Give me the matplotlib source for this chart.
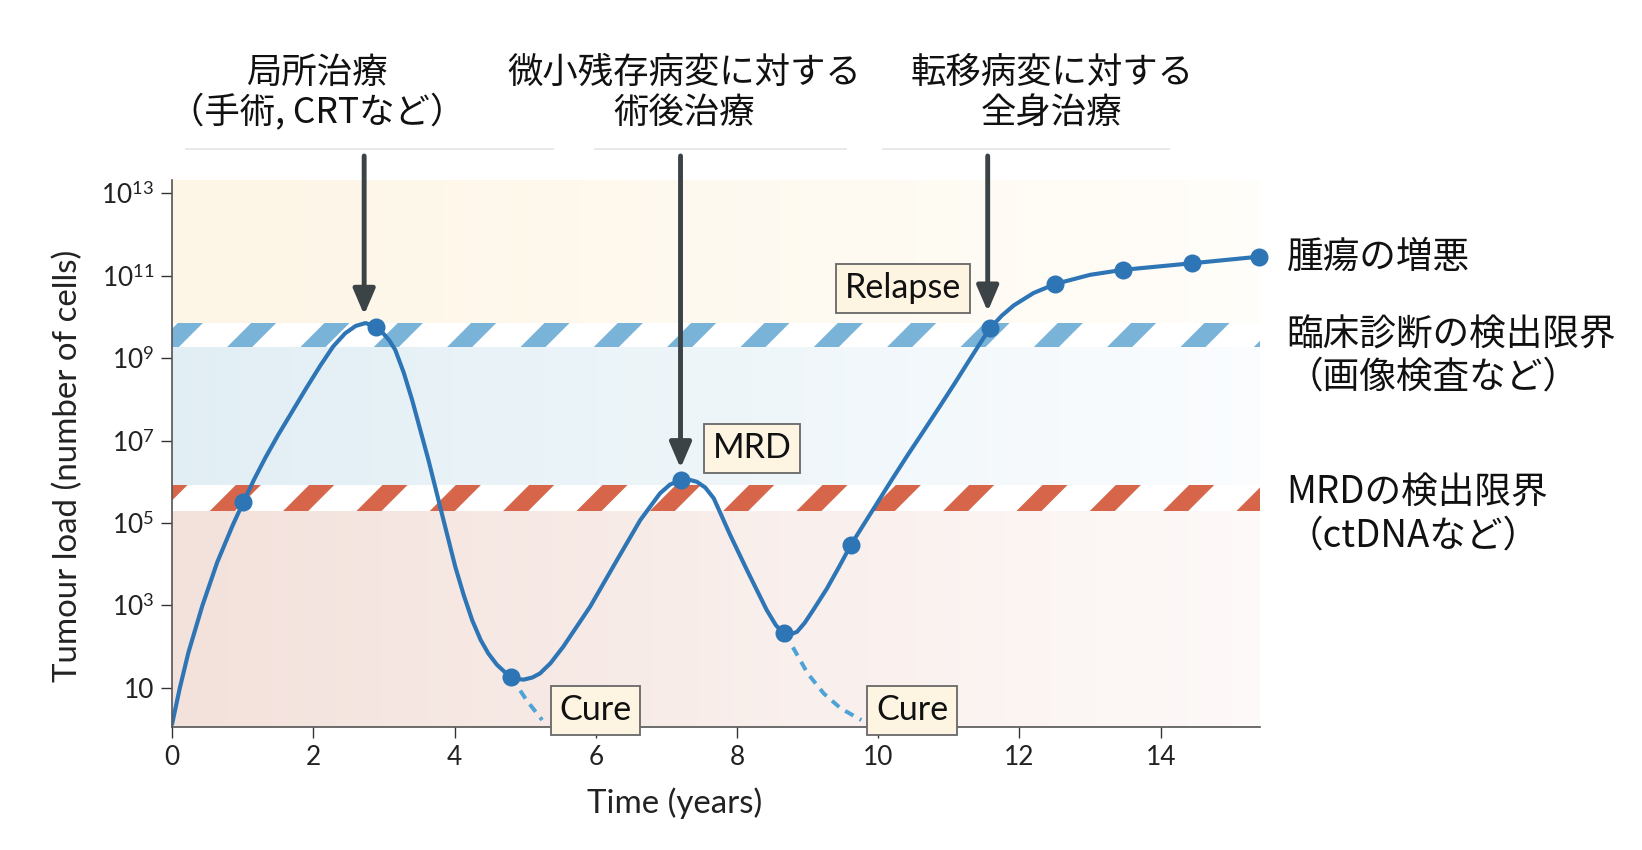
import matplotlib.pyplot as plt
import matplotlib.transforms as mtransforms
import numpy as np
from matplotlib.colors import to_rgb
from matplotlib.ticker import NullLocator

# dpi 220 -> the "/" hatch spacing comes out close to the stripes of the original
DPI = 220
plt.rcParams['font.family'] = ['Lato', 'Noto Sans CJK JP', 'DejaVu Sans']
plt.rcParams['mathtext.fontset'] = 'custom'
plt.rcParams['mathtext.rm'] = 'Lato'
plt.rcParams['mathtext.it'] = 'Lato:italic'
plt.rcParams['hatch.linewidth'] = 5.8
jp = ['Noto Sans CJK JP', 'DejaVu Sans']

# ---- dados (tumour load guardado como expoente de 10) ----
time_curve = [0.00, 0.11, 0.23, 0.43, 0.64, 0.86, 1.01, 1.16, 1.32, 1.50, 1.70, 1.90, 2.10,
              2.28, 2.45, 2.60, 2.74, 2.885, 3.00, 3.08, 3.16, 3.28, 3.40, 3.63, 3.82, 4.01,
              4.13, 4.25, 4.37, 4.48, 4.60, 4.72, 4.80, 4.90, 4.98, 5.10, 5.21, 5.36, 5.54,
              5.92, 6.30, 6.63, 6.91, 7.05, 7.20, 7.32, 7.43, 7.55, 7.67, 7.78, 7.90, 8.14,
              8.42, 8.55, 8.66, 8.76, 8.85, 8.96, 9.08, 9.27, 9.45, 9.61, 9.80, 9.98, 10.20,
              10.41, 10.65, 10.88, 11.08, 11.26, 11.42, 11.58, 11.75, 11.92, 12.20, 12.51,
              13.00, 13.46, 14.44, 15.39]
load_curve = [0.12, 1.00, 1.85, 3.00, 4.05, 4.95, 5.51, 6.05, 6.58, 7.13, 7.70, 8.27, 8.82,
              9.28, 9.60, 9.78, 9.85, 9.76, 9.58, 9.42, 9.20, 8.65, 7.98, 6.53, 5.23, 3.94,
              3.25, 2.64, 2.16, 1.83, 1.56, 1.37, 1.27, 1.21, 1.20, 1.25, 1.35, 1.60, 2.00,
              2.97, 4.10, 5.07, 5.72, 5.93, 6.04, 6.05, 6.00, 5.86, 5.60, 5.18, 4.72, 3.86,
              2.89, 2.52, 2.32, 2.30, 2.36, 2.58, 2.89, 3.40, 3.95, 4.46, 4.98, 5.47, 6.07,
              6.63, 7.25, 7.85, 8.38, 8.87, 9.30, 9.72, 10.03, 10.28, 10.58, 10.80,
              11.02, 11.14, 11.30, 11.46]

time_points = [1.01, 2.885, 4.80, 7.20, 8.66, 9.61, 11.58, 12.51, 13.46, 14.44, 15.39]
load_points = [5.51, 9.76, 1.27, 6.04, 2.32, 4.46, 9.72, 10.80, 11.14, 11.30, 11.46]

# curvas tracejadas "Cure"
time_cure1 = [4.80, 5.02, 5.24]
load_cure1 = [1.27, 0.70, 0.22]
time_cure2 = [8.66, 8.79, 9.00, 9.23, 9.47, 9.76]
load_cure2 = [2.32, 1.99, 1.35, 0.86, 0.50, 0.22]

# limites de deteccao (expoentes)
clinical_limit = (9.26, 9.85)
mrd_limit = (5.29, 5.915)

# zonas de fundo: abaixo de MRD, entre limites, acima do limite clinico
zones = [(0.05, 5.29), (5.915, 9.26), (9.85, 13.32)]
zone_left = ['#f3e1db', '#e1eef4', '#fdf5e5']
zone_right = ['#fdf9f8', '#fafcfe', '#fffdf9']

ytick_exp = [1, 3, 5, 7, 9, 11, 13]
ytick_labels = ['10', '$10^{3}$', '$10^{5}$', '$10^{7}$', '$10^{9}$', '$10^{11}$', '$10^{13}$']
xticks = [0, 2, 4, 6, 8, 10, 12, 14]

# setas de tratamento: x, ponta (expoente)
arrow_x = [2.72, 7.20, 11.55]
arrow_tip = [10.05, 6.33, 10.13]
header_top = ['局所治療', '微小残存病変に対する', '転移病変に対する']
header_bottom = ['（手術, CRTなど）', '術後治療', '全身治療']
header_x = [2.05, 7.25, 12.46]
header_rule = [(0.20, 5.40), (5.99, 9.55), (10.07, 14.12)]

# caixas de texto
box_labels = ['Relapse', 'MRD', 'Cure', 'Cure']
box_x = [10.35, 8.21, 6.00, 10.48]
box_y = [10.69, 6.81, 0.46, 0.46]

# legendas a direita
side_labels = ['腫瘍の増悪', '臨床診断の検出限界', '（画像検査など）', 'MRDの検出限界', '（ctDNAなど）']
side_y = [11.44, 9.56, 8.54, 5.75, 4.68]

x_max = 15.4
blue = '#2e75b6'
light_blue = '#4ea3d6'

fig = plt.figure(figsize=(1642 / DPI, 850 / DPI), dpi=DPI)
ax = fig.add_axes([0.1048, 0.1447, 0.6623, 0.6435])
ax.set_yscale('log')
ax.set_xlim(0, x_max)
ax.set_ylim(10 ** 0.05, 10 ** 13.32)

# fundo em gradiente horizontal (faixas verticais finas)
n_strips = 120
x_edges = np.linspace(0, x_max, n_strips + 1)
for (lo, hi), c0, c1 in zip(zones, zone_left, zone_right):
    c0 = np.array(to_rgb(c0))
    c1 = np.array(to_rgb(c1))
    for i in range(n_strips):
        t = i / (n_strips - 1)
        ax.fill_between(x_edges[i:i + 2] + [0, 0.01], 10 ** lo, 10 ** hi, color=c0 + (c1 - c0) * t,
                        lw=0, antialiased=False, zorder=0)

# faixas listradas dos limites de deteccao
for (lo, hi), col in [(clinical_limit, '#79b3d8'), (mrd_limit, '#d6654a')]:
    ax.fill_between([0, x_max], 10 ** lo, 10 ** hi, facecolor='white', edgecolor=col,
                    hatch='/', lw=0, zorder=1)

# curvas
ax.plot(time_cure1, 10 ** np.array(load_cure1), color=light_blue, lw=1.3,
        ls=(0, (2.4, 1.8)), zorder=3)
ax.plot(time_cure2, 10 ** np.array(load_cure2), color=light_blue, lw=1.3,
        ls=(0, (2.4, 1.8)), zorder=3)
ax.plot(time_curve, 10 ** np.array(load_curve), color=blue, lw=1.35, zorder=4,
        solid_capstyle='round', solid_joinstyle='round')
ax.plot(time_points, 10 ** np.array(load_points), 'o', color=blue, ms=4.9, zorder=5, clip_on=False)

# eixos
for s in ['top', 'right']:
    ax.spines[s].set_visible(False)
for s in ['left', 'bottom']:
    ax.spines[s].set_color('#555555')
    ax.spines[s].set_linewidth(0.55)
    ax.spines[s].set_zorder(6)
ax.set_yticks(10.0 ** np.array(ytick_exp))
ax.set_yticklabels(ytick_labels)
ax.yaxis.set_minor_locator(NullLocator())
ax.set_xticks(xticks)
ax.tick_params(axis='both', labelsize=8.6, length=3.6, width=0.45, color='#333333',
               labelcolor='#222222')
ax.tick_params(axis='y', pad=2.2)
ax.tick_params(axis='x', pad=2.2)

ax.set_xlabel('Time (years)', fontsize=10.8, color='#222222')
ax.xaxis.set_label_coords(0.4625, -0.11)
ax.set_ylabel('Tumour load (number of cells)', fontsize=10.8, color='#222222', va='center')
ax.yaxis.set_label_coords(-0.096, 0.477)

blend = mtransforms.blended_transform_factory(ax.transData, ax.transAxes)

# setas e titulos dos tratamentos
for x, tip in zip(arrow_x, arrow_tip):
    ax.annotate('', xy=(x, 10 ** tip), xycoords='data', xytext=(x, 1.044), textcoords=blend,
                arrowprops=dict(arrowstyle='-|>,head_length=0.7,head_width=0.3',
                                color='#3c4347', lw=1.6, shrinkA=0, shrinkB=0),
                annotation_clip=False, zorder=7)
for x, top, bottom, (r0, r1) in zip(header_x, header_top, header_bottom, header_rule):
    ax.text(x, 1.1956, top, transform=blend, ha='center', va='center', family=jp,
            fontsize=11.6, color='#111111')
    ax.text(x, 1.1225, bottom, transform=blend, ha='center', va='center', family=jp,
            fontsize=11.6, color='#111111')
    ax.plot([r0, r1], [1.0572, 1.0572], transform=blend, color='#e2e2e2', lw=0.5,
            clip_on=False)

# caixas
for lab, x, y in zip(box_labels, box_x, box_y):
    ax.text(x, 10 ** y, lab, ha='center', va='center', fontsize=11.2, color='#111111',
            zorder=8, clip_on=False,
            bbox=dict(boxstyle='square,pad=0.25', fc='#fdf5e2', ec='#6a6a6a', lw=0.6))

# textos da direita
for lab, y in zip(side_labels, side_y):
    ax.text(15.78, 10 ** y, lab, ha='left', va='center', family=jp, fontsize=12.0,
            color='#111111')

fig.savefig('out.png', dpi=DPI)
